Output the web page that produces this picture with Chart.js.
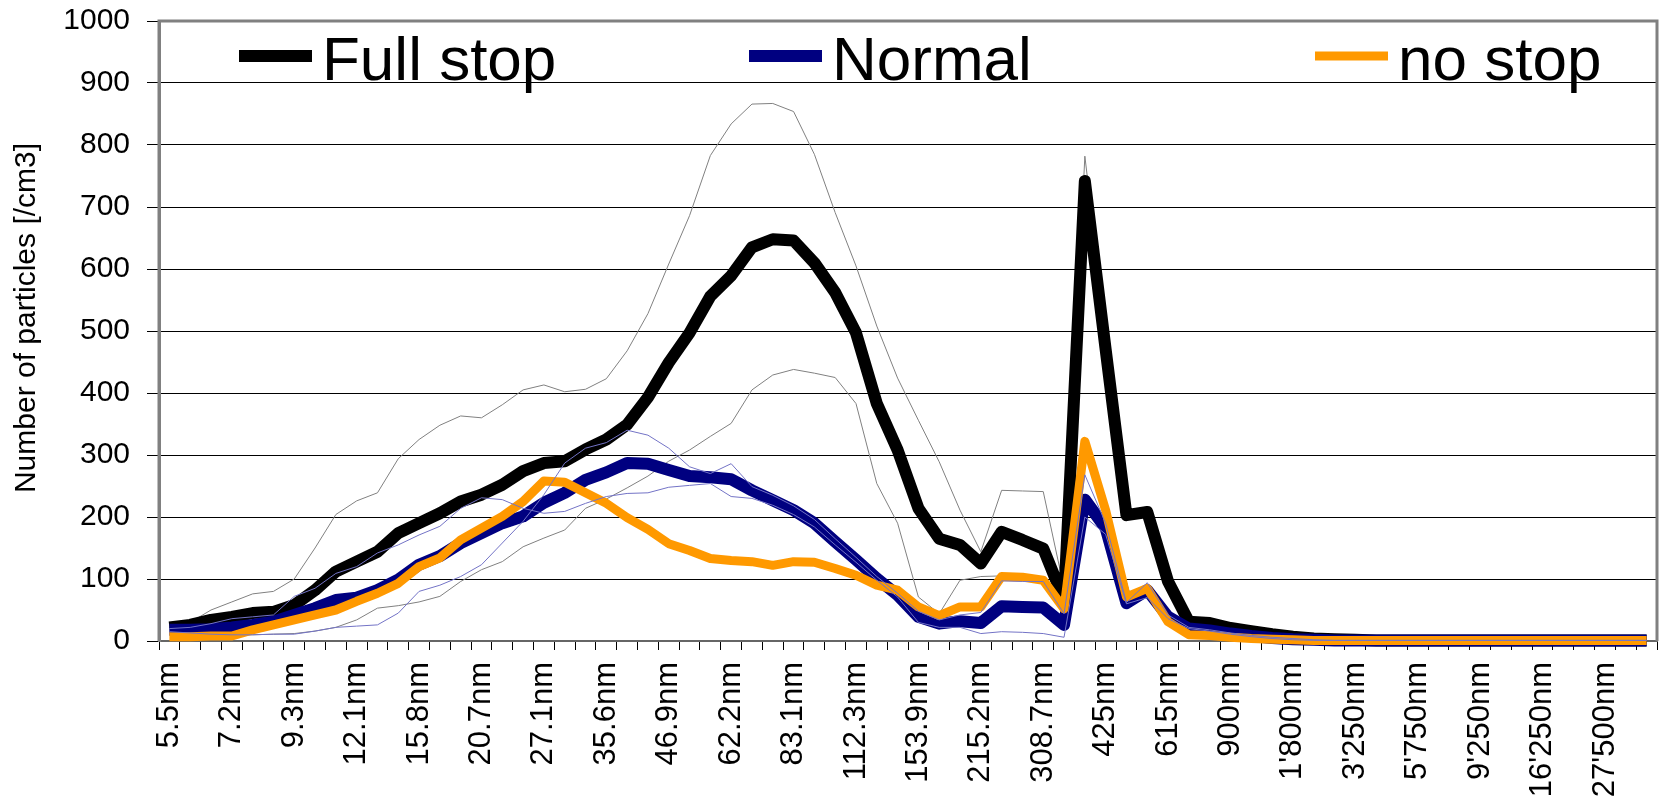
<!DOCTYPE html>
<html>
<head>
<meta charset="utf-8">
<script src="https://cdn.jsdelivr.net/npm/chart.js@4.4.1/dist/chart.umd.min.js"></script>
<style>
  html, body { margin: 0; padding: 0; background: #fff; }
  #wrap { position: relative; width: 1660px; height: 801px; }
</style>
</head>
<body>
<div id="wrap"><canvas id="particleChart"></canvas></div>
<script>
// size bins, labelled every third channel
const sizeLabels = ["5.5nm", "7.2nm", "9.3nm", "12.1nm", "15.8nm", "20.7nm", "27.1nm", "35.6nm",
  "46.9nm", "62.2nm", "83.1nm", "112.3nm", "153.9nm", "215.2nm", "308.7nm", "425nm", "615nm",
  "900nm", "1'800nm", "3'250nm", "5'750nm", "9'250nm", "16'250nm", "27'500nm"];
const labelStep = 3;
const channelCount = 72;

const yTicks = { min: 0, max: 1000, step: 100 };
const yTitle = "Number of particles [/cm3]";

// mean curves
const fullStop = [22, 26, 34, 39, 45, 47, 58, 82, 112, 128, 144, 174, 190, 206, 225, 236, 252, 274,
  287, 290, 309, 325, 349, 393, 449, 497, 556, 589, 635, 648, 646, 610, 562, 497, 383, 308, 214, 165,
  155, 125, 176, 163, 149, 66, 742, 470, 203, 208, 96, 31, 29, 21, 16, 11, 7, 4, 3, 2,
  1, 1, 1, 1, 1, 1, 1, 1, 1, 1, 1, 1, 1, 1];
const normal = [18, 18, 19, 22, 26, 31, 42, 53, 66, 70, 82, 99, 123, 137, 158, 174, 190, 201, 223,
  239, 260, 272, 287, 286, 276, 266, 264, 261, 243, 227, 211, 190, 160, 131, 101, 74, 39, 28, 32, 29,
  56, 55, 54, 26, 228, 182, 61, 82, 39, 20, 17, 12, 8, 5, 3, 2,
  1, 1, 1, 1, 1, 1, 1, 1, 1, 1, 1, 1, 1, 1, 1, 1];
const noStop = [7, 7, 8, 8, 18, 26, 34, 42, 50, 64, 77, 93, 120, 134, 163, 182, 201, 225, 258, 256,
  239, 222, 199, 180, 157, 146, 133, 130, 128, 122, 128, 127, 117, 106, 90, 82, 55, 41, 55, 55, 104,
  103, 98, 52, 322, 211, 71, 85, 31, 10, 9, 6, 4, 3, 2,
  1, 1, 1, 1, 1, 1, 1, 1, 1, 1, 1, 1, 1, 1, 1, 1, 1];

// single runs (thin lines)
const fullStopRunA = [22, 30, 50, 63, 76, 80, 100, 150, 204, 226, 239, 294, 325, 348, 363, 360, 381,
  405, 413, 402, 406, 423, 468, 528, 608, 686, 783, 834, 866, 867, 854, 785, 691, 605, 508, 424, 356,
  289, 211, 144, 243, 242, 241, 85, 782, 500, 210, 213, 100, 33, 30, 22, 17, 12, 8, 5, 3, 2,
  1, 1, 1, 1, 1, 1, 1, 1, 1, 1, 1, 1, 1, 1];
const fullStopRunB = [15, 12, 10, 10, 10, 11, 12, 16, 22, 34, 53, 57, 63, 72, 96, 115, 128, 152, 166,
  179, 214, 229, 247, 266, 290, 308, 330, 351, 405, 429, 438, 432, 425, 383, 254, 190, 71, 44, 98,
  104, 105, 101, 98, 45, 702, 440, 196, 204, 92, 29, 28, 20, 15, 10, 6, 3, 2,
  1, 1, 1, 1, 1, 1, 1, 1, 1, 1, 1, 1, 1, 1, 1];
const normalRunA = [20, 22, 28, 36, 39, 42, 72, 85, 109, 120, 142, 155, 171, 185, 214, 231, 228, 214,
  206, 209, 222, 233, 238, 239, 248, 251, 254, 233, 230, 219, 204, 184, 155, 127, 98, 71, 30, 22, 22,
  12, 15, 14, 12, 6, 200, 172, 60, 70, 36, 20, 16, 11, 7, 4, 2,
  1, 1, 1, 1, 1, 1, 1, 1, 1, 1, 1, 1, 1, 1, 1, 1, 1];
const normalRunB = [15, 13, 11, 10, 10, 11, 11, 16, 22, 24, 26, 45, 80, 90, 104, 123, 158, 193, 236,
  287, 311, 320, 340, 332, 311, 281, 270, 286, 249, 235, 218, 196, 165, 135, 104, 77, 48, 34, 42, 46,
  97, 96, 96, 44, 268, 190, 62, 94, 42, 22, 18, 13, 9, 6, 4, 2,
  1, 1, 1, 1, 1, 1, 1, 1, 1, 1, 1, 1, 1, 1, 1, 1];

const FONT = "'Liberation Sans', Arial, sans-serif";

// one category per channel, only every third one carries a label
const categories = [];
for (let i = 0; i < channelCount; i++) {
  categories.push(i % labelStep === 0 ? sizeLabels[i / labelStep] : "");
}

// lower order is drawn later (on top)
const thick = (label, data, color, width, order) => ({
  label: label,
  data: data,
  borderColor: color,
  backgroundColor: color,
  borderWidth: width,
  pointRadius: 0,
  tension: 0,
  borderJoinStyle: "round",
  clip: false,
  order: order,
  inLegend: true,
});
const thin = (label, data, color, order) => ({
  label: label,
  data: data,
  borderColor: color,
  borderWidth: 1,
  pointRadius: 0,
  tension: 0,
  clip: false,
  order: order,
  inLegend: false,
});

// gray frame around the plot area
const plotFrame = {
  id: "plotFrame",
  beforeDatasetsDraw(chart) {
    const { ctx, chartArea: a } = chart;
    ctx.save();
    ctx.strokeStyle = "#808080";
    ctx.lineWidth = 3;
    ctx.beginPath();
    ctx.moveTo(a.left, a.bottom);
    ctx.lineTo(a.left, a.top);
    ctx.lineTo(a.right, a.top);
    ctx.lineTo(a.right, a.bottom);
    ctx.stroke();
    ctx.restore();
  },
};

// y axis title, placed a bit above the axis middle as in the original
const yAxisTitle = {
  id: "yAxisTitle",
  afterDraw(chart, args, opts) {
    const { ctx } = chart;
    ctx.save();
    ctx.translate(opts.x, opts.y);
    ctx.rotate(-Math.PI / 2);
    ctx.font = opts.fontSize + "px " + FONT;
    ctx.fillStyle = "#000";
    ctx.textAlign = "center";
    ctx.textBaseline = "middle";
    ctx.fillText(yTitle, 0, 0);
    ctx.restore();
  },
};

// legend drawn inside the plot, items at fixed spots like the original
const insideLegend = {
  id: "insideLegend",
  afterDraw(chart, args, opts) {
    const { ctx } = chart;
    const items = chart.data.datasets.filter((d) => d.inLegend);
    ctx.save();
    ctx.font = opts.fontSize + "px " + FONT;
    ctx.textBaseline = "alphabetic";
    ctx.fillStyle = "#000";
    items.forEach((d, k) => {
      const x = opts.xs[k];
      ctx.strokeStyle = d.borderColor;
      ctx.lineWidth = d.borderWidth;
      ctx.beginPath();
      ctx.moveTo(x, opts.lineY);
      ctx.lineTo(x + opts.lineLength, opts.lineY);
      ctx.stroke();
      ctx.fillText(d.label, x + opts.lineLength + 10, opts.textY);
    });
    ctx.restore();
  },
};

new Chart(document.getElementById("particleChart"), {
  type: "line",
  data: {
    labels: categories,
    datasets: [
      thick("Full stop", fullStop, "#000000", 12, 3),
      thick("Normal", normal, "#000080", 12, 2),
      thick("no stop", noStop, "#FF9900", 9, 1),
      thin("Full stop run 1", fullStopRunA, "#808080", 5),
      thin("Full stop run 2", fullStopRunB, "#808080", 5),
      thin("Normal run 1", normalRunA, "#7373c6", 0),
      thin("Normal run 2", normalRunB, "#7373c6", 0),
    ],
  },
  options: {
    responsive: true,
    maintainAspectRatio: false,
    animation: false,
    layout: { padding: { top: 21, right: 3, left: 0, bottom: 0 } },
    plugins: {
      legend: { display: false },
      tooltip: { enabled: false },
      insideLegend: {
        xs: [239, 749, 1315],
        lineLength: 73,
        lineY: 56,
        textY: 80,
        fontSize: 62,
      },
      yAxisTitle: { x: 27, y: 318, fontSize: 30 },
    },
    scales: {
      x: {
        type: "category",
        offset: true,
        grid: {
          offset: true,
          drawOnChartArea: false,
          drawTicks: true,
          tickLength: 9,
          color: "#000",
        },
        border: { color: "#666", width: 2 },
        ticks: {
          autoSkip: false,
          minRotation: 90,
          maxRotation: 90,
          padding: 12,
          color: "#000",
          font: { family: FONT, size: 31 },
        },
        afterFit(scale) {
          scale.height = 160;
          scale.paddingLeft = 0;
          scale.paddingRight = 0;
        },
      },
      y: {
        min: yTicks.min,
        max: yTicks.max,
        grid: { color: "#000", lineWidth: 1, tickLength: 12 },
        border: { color: "#808080", width: 3 },
        ticks: {
          stepSize: yTicks.step,
          padding: 17,
          color: "#000",
          font: { family: FONT, size: 30 },
          callback: (v) => String(v),
        },
        afterFit(scale) {
          scale.width = 159;
          scale.paddingTop = 0;
          scale.paddingBottom = 0;
        },
      },
    },
  },
  plugins: [plotFrame, insideLegend, yAxisTitle],
});
</script>
</body>
</html>
